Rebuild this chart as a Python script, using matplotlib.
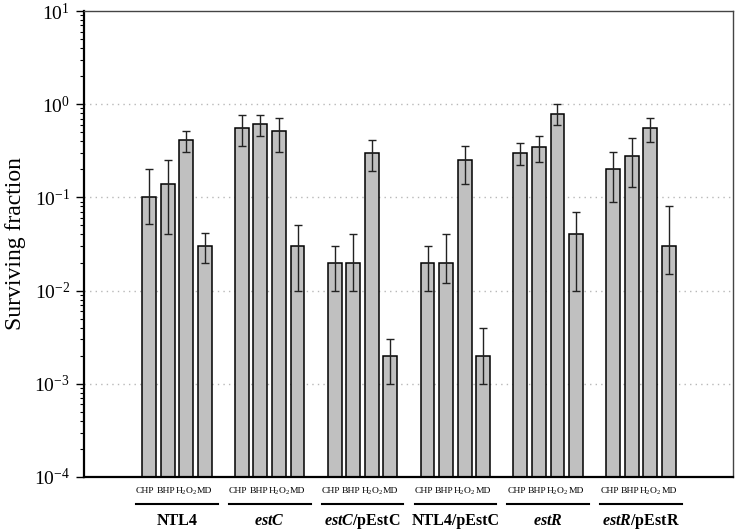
import numpy as np
import matplotlib
matplotlib.use('Agg')
import matplotlib.pyplot as plt
import matplotlib.transforms as mtransforms

# fonts ======================================================
plt.rcParams['font.family'] = 'Liberation Serif'
plt.rcParams['mathtext.fontset'] = 'custom'
plt.rcParams['mathtext.rm'] = 'Liberation Serif'
plt.rcParams['mathtext.it'] = 'Liberation Serif:italic:bold'
plt.rcParams['mathtext.bf'] = 'Liberation Serif:bold'

# data =======================================================
strains = ['NTL4', r'$\mathit{estC}$', r'$\mathit{estC}$/pEstC',
           'NTL4/pEstC', r'$\mathit{estR}$', r'$\mathit{estR}$/pEstR']
treatments = ['CHP', 'BHP', r'H$_2$O$_2$', 'MD']

# surviving fraction per strain (CHP, BHP, H2O2, MD)
means = [[0.10, 0.14, 0.41, 0.030],
         [0.56, 0.61, 0.51, 0.030],
         [0.020, 0.020, 0.30, 0.002],
         [0.020, 0.020, 0.25, 0.002],
         [0.30, 0.35, 0.79, 0.040],
         [0.20, 0.28, 0.55, 0.030]]
err_hi = [[0.20, 0.25, 0.51, 0.041],
          [0.77, 0.77, 0.71, 0.050],
          [0.030, 0.040, 0.41, 0.003],
          [0.030, 0.040, 0.36, 0.004],
          [0.38, 0.46, 1.00, 0.070],
          [0.31, 0.43, 0.71, 0.081]]
err_lo = [[0.052, 0.040, 0.31, 0.020],
          [0.36, 0.46, 0.31, 0.010],
          [0.010, 0.010, 0.19, 0.001],
          [0.010, 0.012, 0.14, 0.001],
          [0.22, 0.24, 0.60, 0.010],
          [0.09, 0.13, 0.39, 0.015]]

# layout =====================================================
fig = plt.figure(figsize=(7.4, 5.32), dpi=100)
ax = fig.add_axes([0.1135, 0.1034, 0.877, 0.8759])

gap = 5
for g in range(len(strains)):
    x = g * gap + np.arange(4)
    m = np.array(means[g])
    lo = m - np.array(err_lo[g])
    hi = np.array(err_hi[g]) - m
    ax.bar(x, m, width=0.75, color='#c0c0c0', edgecolor='black',
           linewidth=1.1, zorder=2)
    ax.errorbar(x, m, yerr=[lo, hi], fmt='none', ecolor='#222222',
                elinewidth=1.0, capsize=2.6, capthick=1.0, zorder=3)

ax.set_yscale('log')
ax.set_ylim(1e-4, 10)
ax.set_xlim(-3.5, (len(strains) - 1) * gap + 3 + 3.45)

# dotted grid at 10^0 .. 10^-3
for v in [1, 0.1, 0.01, 0.001]:
    ax.axhline(v, color='#b8b8b8', linestyle=(0, (1, 3)), linewidth=1.0, zorder=1)

ax.set_xticks([])
ax.tick_params(axis='y', which='major', direction='out', length=6, width=1,
               labelsize=14, pad=4)
ax.tick_params(axis='y', which='minor', direction='out', length=3, width=0.8)
ax.set_ylabel('Surviving fraction', fontsize=17, labelpad=6)

for side in ['left', 'bottom']:
    ax.spines[side].set_linewidth(1.6)
for side in ['top', 'right']:
    ax.spines[side].set_linewidth(1.0)
    ax.spines[side].set_color('#444444')

# group labels below the axis =================================
trans = mtransforms.blended_transform_factory(ax.transData, ax.transAxes)
shift = [-0.2, -0.1, 0.0, 0.0]
for g, name in enumerate(strains):
    x = g * gap + np.arange(4)
    for xi, t, s in zip(x, treatments, shift):
        ax.text(xi + s, -0.030, t, transform=trans, ha='center', va='center',
                fontsize=6.8)
    ax.plot([x[0] - 0.7, x[-1] + 0.7], [-0.058, -0.058], transform=trans,
            color='black', linewidth=1.5, clip_on=False)
    ax.text(x.mean(), -0.095, name, transform=trans, ha='center', va='center',
            fontsize=11.5, fontweight='bold')

fig.savefig('out.png', dpi=100)
